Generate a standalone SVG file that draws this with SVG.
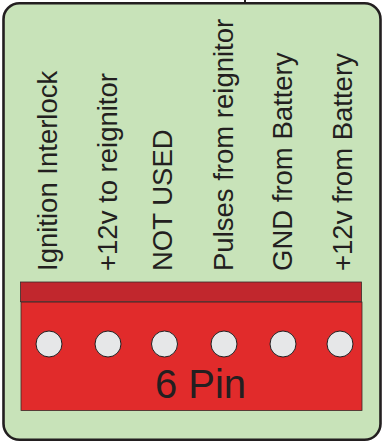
<svg xmlns="http://www.w3.org/2000/svg" width="382" height="442" viewBox="0 0 382 442">
<style>
.lbl{font-family:"Liberation Sans",Arial,sans-serif;font-size:27.5px;fill:#231F20}
.pin{fill:#E6E7E8;stroke:#231F20;stroke-width:1}
</style>
<g id="board">
<rect x="3.5" y="3.2" width="377" height="436.6" rx="16" ry="16" fill="#C8E3B9" stroke="#231F20" stroke-width="2.6"/>
<line x1="245" y1="0" x2="245" y2="4" stroke="#231F20" stroke-width="2"/>
</g>
<g id="labels">
<text class="lbl" transform="translate(57,271) rotate(-90)">Ignition Interlock</text>
<text class="lbl" transform="translate(117,271) rotate(-90)">+12v to reignitor</text>
<text class="lbl" transform="translate(172,271) rotate(-90)">NOT USED</text>
<text class="lbl" transform="translate(233,271) rotate(-90)">Pulses from reignitor</text>
<text class="lbl" transform="translate(292,271) rotate(-90)">GND from Battery</text>
<text class="lbl" transform="translate(352,271) rotate(-90)">+12v from Battery</text>
</g>
<g id="connector">
<rect x="21" y="302" width="341" height="108.5" fill="#E12B2B" stroke="#3A2A2A" stroke-width="0.8"/>
<rect x="20.5" y="282" width="341" height="19.7" fill="#C1272D" stroke="#3A2A2A" stroke-width="0.8"/>
<circle class="pin" cx="49" cy="344" r="13"/>
<circle class="pin" cx="108" cy="344" r="13"/>
<circle class="pin" cx="164.5" cy="344" r="13"/>
<circle class="pin" cx="224" cy="344" r="13"/>
<circle class="pin" cx="283" cy="344" r="13"/>
<circle class="pin" cx="340" cy="344" r="13"/>
<text x="200.5" y="398" text-anchor="middle" font-family="'Liberation Sans',Arial,sans-serif" font-size="40" fill="#231F20">6 Pin</text>
</g>
<g id="connectors"/>
</svg>
